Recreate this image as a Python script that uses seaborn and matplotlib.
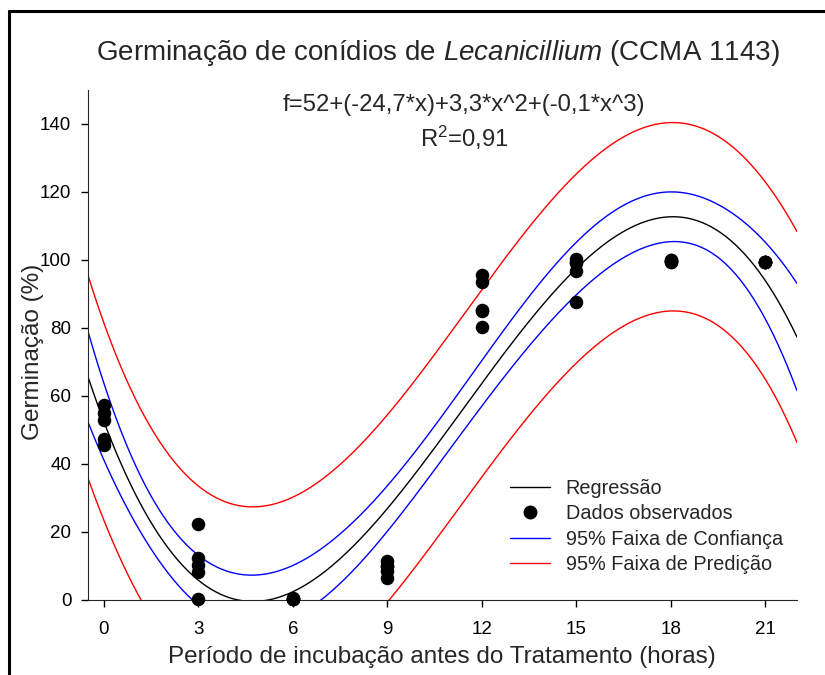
import numpy as np
import pandas as pd
import matplotlib
matplotlib.use("Agg")
import matplotlib.pyplot as plt
from matplotlib.lines import Line2D
import seaborn as sns

# ---------------- data ----------------
hours = [0, 3, 6, 9, 12, 15, 18, 21]
germ_0h = [57.5, 55.0, 53.0, 47.5, 45.5]
germ_3h = [22.3, 12.3, 10.3, 8.3, 0.3]
germ_6h = [0.5, 0.4, 0.3, 0.3, 0.2]
germ_9h = [11.5, 10.0, 10.0, 8.5, 6.5]
germ_12h = [95.5, 93.5, 85.3, 85.0, 80.3]
germ_15h = [100.3, 99.5, 99.0, 96.7, 87.6]
germ_18h = [100.0, 100.0, 99.7, 99.5, 99.3]
germ_21h = [99.3, 99.3, 99.3, 99.3, 99.3]
xticks = [0, 3, 6, 9, 12, 15, 18, 21]
yticks = [0, 20, 40, 60, 80, 100, 120, 140]

title_pre = "Germinação de conídios de "
title_it = "Lecanicillium"
title_post = " (CCMA 1143)"
equation = "f=52+(-24,7*x)+3,3*x^2+(-0,1*x^3)"
r2_text = "R$^{2}$=0,91"
xlabel = "Período de incubação antes do Tratamento (horas)"
ylabel = "Germinação (%)"
legend_labels = ["Regressão", "Dados observados",
                 "95% Faixa de Confiança", "95% Faixa de Predição"]

groups = [germ_0h, germ_3h, germ_6h, germ_9h, germ_12h, germ_15h, germ_18h, germ_21h]
obs = pd.DataFrame({
    "hora": np.concatenate([[h] * len(g) for h, g in zip(hours, groups)]).astype(float),
    "germ": np.concatenate(groups),
})

# ---------------- cubic regression with 95% bands ----------------
x = obs["hora"].to_numpy()
y = obs["germ"].to_numpy()
n = len(x)
X = np.vander(x, 4)
beta, *_ = np.linalg.lstsq(X, y, rcond=None)
resid = y - X @ beta
dof = n - 4
s2 = resid @ resid / dof
XtX_inv = np.linalg.inv(X.T @ X)
z = 1.959963985
tval = z + (z**3 + z) / (4 * dof) + (5 * z**5 + 16 * z**3 + 3 * z) / (96 * dof**2)

xg = np.linspace(-0.5, 22, 300)
G = np.vander(xg, 4)
fit = G @ beta
h = np.einsum("ij,jk,ik->i", G, XtX_inv, G)
ci = tval * np.sqrt(s2 * h)
pi = tval * np.sqrt(s2 * (1 + h))
curves = pd.DataFrame({"x": xg, "fit": fit, "ci_lo": fit - ci, "ci_hi": fit + ci,
                       "pi_lo": fit - pi, "pi_hi": fit + pi})

# ---------------- plotting ----------------
sns.set_style("ticks")
plt.rcParams["font.family"] = ["Liberation Sans", "DejaVu Sans"]
plt.rcParams["mathtext.fontset"] = "custom"
plt.rcParams["mathtext.rm"] = "Liberation Sans"
plt.rcParams["mathtext.it"] = "Liberation Sans:italic"

W, H = 825, 675
fig = plt.figure(figsize=(W / 100, H / 100), dpi=100)
ax = fig.add_axes([88 / W, 1 - 600 / H, (797 - 88) / W, (600 - 90) / H])

lw = 1.0
sns.lineplot(data=curves, x="x", y="pi_hi", color="red", lw=lw, ax=ax)
sns.lineplot(data=curves, x="x", y="pi_lo", color="red", lw=lw, ax=ax)
sns.lineplot(data=curves, x="x", y="ci_hi", color="blue", lw=lw, ax=ax)
sns.lineplot(data=curves, x="x", y="ci_lo", color="blue", lw=lw, ax=ax)
sns.lineplot(data=curves, x="x", y="fit", color="black", lw=lw, ax=ax)
sns.scatterplot(data=obs, x="hora", y="germ", color="black", s=95,
                edgecolor="black", linewidth=0, ax=ax, zorder=5, clip_on=False)

ax.set_xlim(-0.5, 22)
ax.set_ylim(0, 150)
ax.set_xticks(xticks)
ax.set_yticks(yticks)
for sp in ["top", "right"]:
    ax.spines[sp].set_visible(False)
ax.spines["left"].set_bounds(0, 150)
ax.tick_params(axis="both", direction="out", length=5, width=1, labelsize=13.5, colors="black")
ax.tick_params(axis="y", pad=7)
ax.tick_params(axis="x", pad=10)
ax.set_xlabel(xlabel, fontsize=17.5)
ax.set_ylabel(ylabel, fontsize=17.5)
ax.xaxis.set_label_coords((442 - 88) / 709, (600 - 646) / 510)
ax.yaxis.set_label_coords((44 - 88) / 709, (600 - 352) / 510)

# legend
handles = [
    Line2D([], [], color="black", lw=lw),
    Line2D([], [], color="black", marker="o", ls="none", markersize=9),
    Line2D([], [], color="blue", lw=lw),
    Line2D([], [], color="red", lw=lw),
]
fig.legend(handles, legend_labels, loc="upper left",
           bbox_to_anchor=(510 / W, 1 - 479 / H), bbox_transform=fig.transFigure,
           frameon=False, fontsize=14.3, handlelength=2.0, handletextpad=0.8,
           labelspacing=0.32, borderpad=0, borderaxespad=0)

# texts
fig.text(438 / W, 1 - 60 / H, title_pre + r"$\it{" + title_it + "}$" + title_post,
         ha="center", va="baseline", fontsize=20)
fig.text(464 / W, 1 - 111 / H, equation, ha="center", va="baseline", fontsize=17.2)
fig.text(464 / W, 1 - 147 / H, r2_text, ha="center", va="baseline", fontsize=17.2)

# outer frame (top and left edges visible)
fig.add_artist(Line2D([9 / W, 1.0], [1 - 11 / H, 1 - 11 / H], color="black", lw=2.2,
                      transform=fig.transFigure))
fig.add_artist(Line2D([9 / W, 9 / W], [0, 1 - 11 / H], color="black", lw=2.2,
                      transform=fig.transFigure))

fig.savefig("out.png", dpi=100)
